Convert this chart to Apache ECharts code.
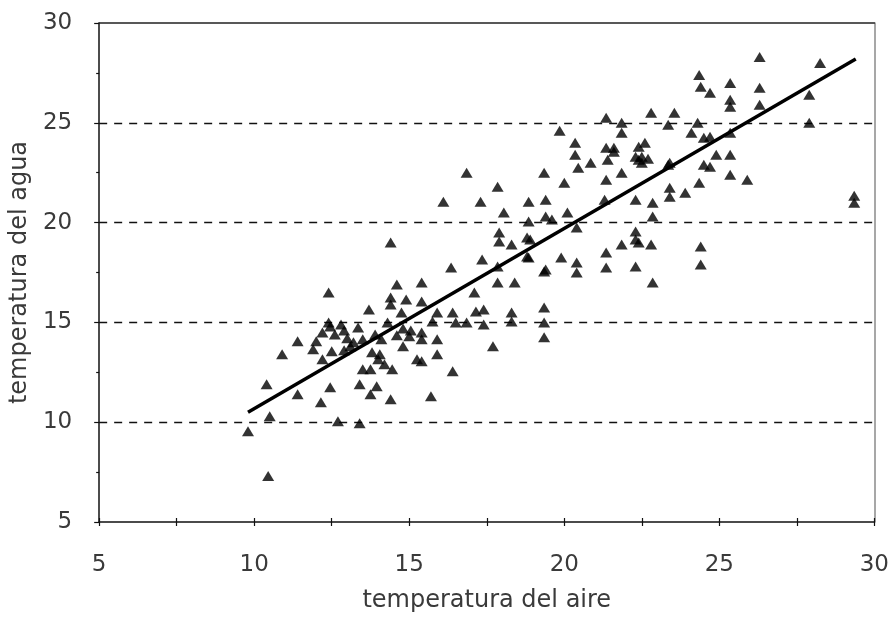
<!DOCTYPE html>
<html>
<head>
<meta charset="utf-8">
<script src="https://cdn.jsdelivr.net/npm/echarts@6/dist/echarts.min.js"></script>
<style>
  html, body { margin: 0; padding: 0; background: #ffffff; }
  #chart { width: 892px; height: 618px; }
</style>
</head>
<body>
<div id="chart"></div>
<script>
// Air temperature (x) of each observation, °C
const airTemp = [
  12.4, 13.7, 14.6, 14.4, 14.75, 12.45, 12.2, 12.6, 12.0, 11.4,
  10.9, 11.9, 12.2, 12.5, 13.35, 13.5, 13.9, 14.1, 13.8, 14.0,
  13.5, 14.45, 14.2, 10.4, 11.4, 12.45, 12.15, 13.4, 13.95, 13.75,
  14.4, 10.5, 9.8, 12.7, 13.4, 10.45, 14.4, 15.4, 12.8, 13.0,
  13.2, 12.9, 14.8, 15.05, 14.6, 14.3, 14.05, 12.4, 14.4, 15.25,
  15.4, 13.75, 12.9, 13.1,
  17.9, 18.3, 18.9, 18.85, 17.35, 16.35, 19.35, 17.85, 18.4, 14.9,
  15.4, 17.1, 15.9, 16.4, 16.85, 17.15, 17.4, 17.4, 15.75, 16.5,
  18.3, 18.3, 19.35, 19.35, 19.35, 17.7, 15.0, 15.4, 15.9, 14.8,
  15.9, 15.4, 16.4, 15.7,
  20.35, 20.85, 21.4, 21.6, 22.3, 22.5, 20.45, 19.35, 20.0, 21.35,
  21.85, 23.4, 23.4, 23.4, 23.9, 18.85, 19.4, 22.3, 22.85, 22.85,
  20.1, 19.4, 19.6, 18.85, 20.4, 18.8, 22.3, 22.3, 21.85, 22.8,
  18.8, 19.9, 20.4, 20.4, 21.35, 21.35, 19.4, 22.3, 22.85, 16.85,
  17.85, 16.1, 17.3, 18.05, 17.9, 17.85, 19.85, 20.35,
  26.3, 28.25, 24.35, 24.4, 24.7, 25.35, 25.35, 25.35, 26.3, 27.9,
  26.3, 27.9, 21.35, 22.8, 23.55, 23.35, 21.85, 21.85, 24.1, 24.3,
  24.5, 24.7, 25.35, 24.9, 25.35, 24.5, 24.7, 25.35, 25.9, 24.35,
  21.35, 21.6, 22.4, 22.6, 22.4, 23.35, 21.3, 29.35, 29.35, 22.4,
  24.4, 24.4, 22.5, 22.7
];

// Water temperature (y) of each observation, °C
const waterTemp = [
  16.5, 15.65, 16.9, 16.25, 15.5, 14.8, 14.5, 14.4, 14.05, 14.05,
  13.4, 13.65, 13.15, 13.55, 14.75, 14.15, 14.4, 14.15, 13.5, 13.15,
  12.65, 12.65, 12.9, 11.9, 11.4, 11.75, 11.0, 11.9, 11.8, 11.4,
  11.15, 10.3, 9.55, 10.05, 9.95, 7.3, 19.0, 17.0, 14.9, 14.2,
  14.0, 13.6, 14.7, 14.6, 14.35, 15.0, 13.4, 15.0, 15.9, 13.15,
  14.5, 12.65, 14.6, 13.8,
  19.5, 18.9, 19.15, 18.25, 18.15, 17.75, 17.55, 17.0, 17.0, 16.15,
  16.05, 16.5, 15.5, 15.5, 15.0, 15.55, 15.65, 14.9, 15.05, 15.0,
  15.5, 15.05, 15.75, 15.0, 14.25, 13.8, 14.3, 14.15, 14.15, 13.8,
  13.4, 13.05, 12.55, 11.3,
  23.4, 23.0, 23.15, 23.55, 23.3, 23.0, 22.75, 22.5, 22.0, 22.15,
  22.5, 23.0, 21.75, 21.3, 21.5, 21.05, 21.15, 21.15, 21.0, 20.3,
  20.5, 20.3, 20.15, 20.05, 19.75, 19.25, 19.55, 19.15, 18.9, 18.9,
  18.3, 18.25, 18.0, 17.5, 18.5, 17.75, 17.65, 17.8, 17.0, 22.5,
  21.8, 21.05, 21.05, 20.5, 19.05, 17.8, 24.6, 24.0,
  28.3, 28.0, 27.4, 26.8, 26.5, 27.0, 26.15, 25.8, 26.75, 26.4,
  25.9, 25.0, 25.25, 25.5, 25.5, 24.9, 25.0, 24.5, 24.5, 25.0,
  24.25, 24.3, 24.5, 23.4, 23.4, 22.9, 22.8, 22.4, 22.15, 22.0,
  23.75, 23.75, 23.8, 24.0, 23.15, 22.9, 21.15, 21.35, 21.0, 19.0,
  18.8, 17.9, 23.3, 23.2
];

// Least-squares trend line, drawn between its two end points
const trendAir = [9.8, 29.4];
const trendWater = [10.5, 28.2];

const points = airTemp.map((x, i) => [x, waterTemp[i]]);
const trend = trendAir.map((x, i) => [x, trendWater[i]]);

const FONT = 'DejaVu Sans';
const TEXT = '#3a3a3a';
const INK = '#111111';

const chart = echarts.init(document.getElementById('chart'), null, { renderer: 'canvas' });

chart.setOption({
  backgroundColor: '#ffffff',
  animation: false,
  grid: { left: 97, right: 14, top: 23, bottom: 95, containLabel: false },
  xAxis: [
    {
      type: 'value', min: 5, max: 30, interval: 5, position: 'bottom',
      name: 'temperatura del aire', nameLocation: 'middle', nameGap: 67,
      nameTextStyle: { fontFamily: FONT, fontSize: 24, color: TEXT },
      axisLine: { onZero: false, lineStyle: { color: INK, width: 1.5 } },
      axisTick: { show: true, length: 4, lineStyle: { color: INK, width: 1.2 } },
      minorTick: { show: true, splitNumber: 2, length: 4, lineStyle: { color: INK, width: 1.2 } },
      axisLabel: { fontFamily: FONT, fontSize: 23, color: TEXT, margin: 32 },
      splitLine: { show: false }
    },
    {
      // inner half of the x ticks, so each tick crosses the axis line
      type: 'value', min: 5, max: 30, interval: 5, position: 'bottom',
      axisLine: { show: false, onZero: false },
      axisTick: { show: true, inside: true, length: 4, lineStyle: { color: INK, width: 1.2 } },
      minorTick: { show: true, splitNumber: 2, length: 4, lineStyle: { color: INK, width: 1.2 } },
      axisLabel: { show: false },
      splitLine: { show: false }
    },
    {
      // top edge of the plot frame
      type: 'value', min: 5, max: 30, position: 'top',
      axisLine: { onZero: false, lineStyle: { color: '#222222', width: 1.5 } },
      axisTick: { show: false }, axisLabel: { show: false }, splitLine: { show: false }
    }
  ],
  yAxis: [
    {
      type: 'value', min: 5, max: 30, interval: 5, position: 'left',
      name: 'temperatura del agua', nameLocation: 'middle', nameGap: 61,
      nameTextStyle: { fontFamily: FONT, fontSize: 24, color: TEXT },
      axisLine: { onZero: false, lineStyle: { color: INK, width: 1.5 } },
      axisTick: { show: true, length: 5, lineStyle: { color: INK, width: 1.2 } },
      minorTick: { show: true, splitNumber: 2, length: 3, lineStyle: { color: INK, width: 1.2 } },
      axisLabel: { fontFamily: FONT, fontSize: 23, color: TEXT, margin: 27 },
      splitLine: {
        show: true, showMinLine: false, showMaxLine: false,
        lineStyle: { color: INK, width: 1.4, type: [8, 7] }
      }
    },
    {
      // right edge of the plot frame
      type: 'value', min: 5, max: 30, position: 'right',
      axisLine: { onZero: false, lineStyle: { color: '#8a8a8a', width: 1.5 } },
      axisTick: { show: false }, axisLabel: { show: false }, splitLine: { show: false }
    }
  ],
  series: [
    {
      type: 'scatter', xAxisIndex: 0, yAxisIndex: 0,
      symbol: 'triangle', symbolSize: [12, 10],
      itemStyle: { color: '#000000' },
      data: points, z: 3
    },
    {
      type: 'line', xAxisIndex: 0, yAxisIndex: 0,
      data: trend, showSymbol: false, symbol: 'none',
      lineStyle: { color: '#000000', width: 3.5 }, z: 4
    }
  ]
});
</script>
</body>
</html>
